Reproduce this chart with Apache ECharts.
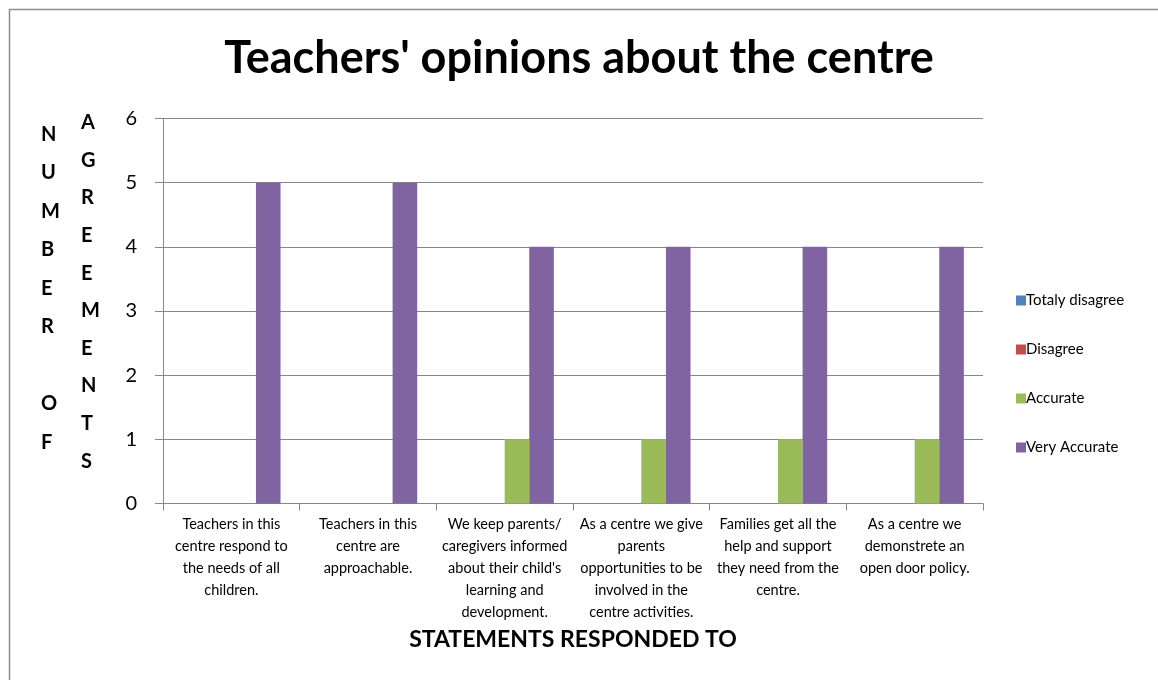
<!DOCTYPE html>
<html>
<head>
<meta charset="utf-8">
<script src="https://cdn.jsdelivr.net/npm/echarts@6/dist/echarts.min.js"></script>
<style>
  html, body { margin: 0; padding: 0; background: #fff; }
  #chart { width: 1158px; height: 680px; }
</style>
</head>
<body>
<div id="chart"></div>
<script>
// Survey statements (x-axis categories)
const statements = [
  "Teachers in this\ncentre respond to\nthe needs of all\nchildren.",
  "Teachers in this\ncentre are\napproachable.",
  "We keep parents/\ncaregivers informed\nabout their child's\nlearning and\ndevelopment.",
  "As a centre we give\nparents\nopportunities to be\ninvolved in the\ncentre activities.",
  "Families get all the\nhelp and support\nthey need from the\ncentre.",
  "As a centre we\ndemonstrete an\nopen door policy."
];

// Response counts per answer option
const totalyDisagree = [0, 0, 0, 0, 0, 0];
const disagree       = [0, 0, 0, 0, 0, 0];
const accurate       = [0, 0, 1, 1, 1, 1];
const veryAccurate   = [5, 5, 4, 4, 4, 4];

const seriesNames = ["Totaly disagree", "Disagree", "Accurate", "Very Accurate"];
const seriesColors = ["#4f81bd", "#c0504d", "#9bbb59", "#8064a2"];
const seriesData = [totalyDisagree, disagree, accurate, veryAccurate];

const FONT = "Lato, 'Open Sans', sans-serif";

const chart = echarts.init(document.getElementById("chart"), null, { renderer: "canvas" });

chart.setOption({
  animation: false,
  backgroundColor: "#ffffff",
  title: {
    text: "Teachers' opinions about the centre",
    left: "center",
    top: 31,
    textStyle: { fontFamily: FONT, fontSize: 45, fontWeight: "bold", color: "#000" }
  },
  legend: {
    orient: "vertical",
    left: 1011,
    top: 288,
    itemGap: 34,
    itemWidth: 10,
    itemHeight: 10,
    icon: "rect",
    textStyle: { fontFamily: FONT, fontSize: 15, color: "#000", padding: [0, 0, 0, -5] },
    data: seriesNames
  },
  grid: { left: 163, right: 175, top: 118.5, bottom: 176.5 },
  xAxis: {
    type: "category",
    data: statements,
    name: "STATEMENTS RESPONDED TO",
    nameLocation: "middle",
    nameGap: 124,
    nameTextStyle: { fontFamily: FONT, fontSize: 23, fontWeight: "bold", color: "#000" },
    axisLine: { lineStyle: { color: "#868686", width: 1 } },
    axisTick: { show: true, length: 7, alignWithLabel: false, lineStyle: { color: "#868686" } },
    axisLabel: {
      interval: 0,
      margin: 10,
      fontFamily: FONT,
      fontSize: 14.5,
      lineHeight: 22,
      color: "#000",
      align: "center"
    }
  },
  yAxis: {
    type: "value",
    min: 0,
    max: 6,
    interval: 1,
    axisLine: { show: true, lineStyle: { color: "#868686", width: 1 } },
    axisTick: { show: true, length: 8, lineStyle: { color: "#868686" } },
    axisLabel: { margin: 26, fontFamily: FONT, fontSize: 20, color: "#000" },
    splitLine: { lineStyle: { color: "#868686", width: 1 } }
  },
  graphic: [
    {
      type: "rect",
      left: 7, top: 7,
      shape: { width: 1200, height: 720 },
      style: { fill: "none", stroke: "#8c8c8c", lineWidth: 1.5 },
      silent: true
    },
    {
      type: "text",
      left: 41, top: 115,
      style: {
        text: "N\nU\nM\nB\nE\nR\n\nO\nF",
        fontFamily: FONT, fontSize: 20, fontWeight: "bold",
        lineHeight: 38.5, align: "center", fill: "#000"
      }
    },
    {
      type: "text",
      left: 81, top: 104,
      style: {
        text: "A\nG\nR\nE\nE\nM\nE\nN\nT\nS",
        fontFamily: FONT, fontSize: 20, fontWeight: "bold",
        lineHeight: 37.6, align: "center", fill: "#000"
      }
    }
  ],
  series: seriesNames.map((name, i) => ({
    name: name,
    type: "bar",
    data: seriesData[i],
    barGap: "0%",
    barCategoryGap: "28%",
    itemStyle: { color: seriesColors[i] }
  }))
});
</script>
</body>
</html>
